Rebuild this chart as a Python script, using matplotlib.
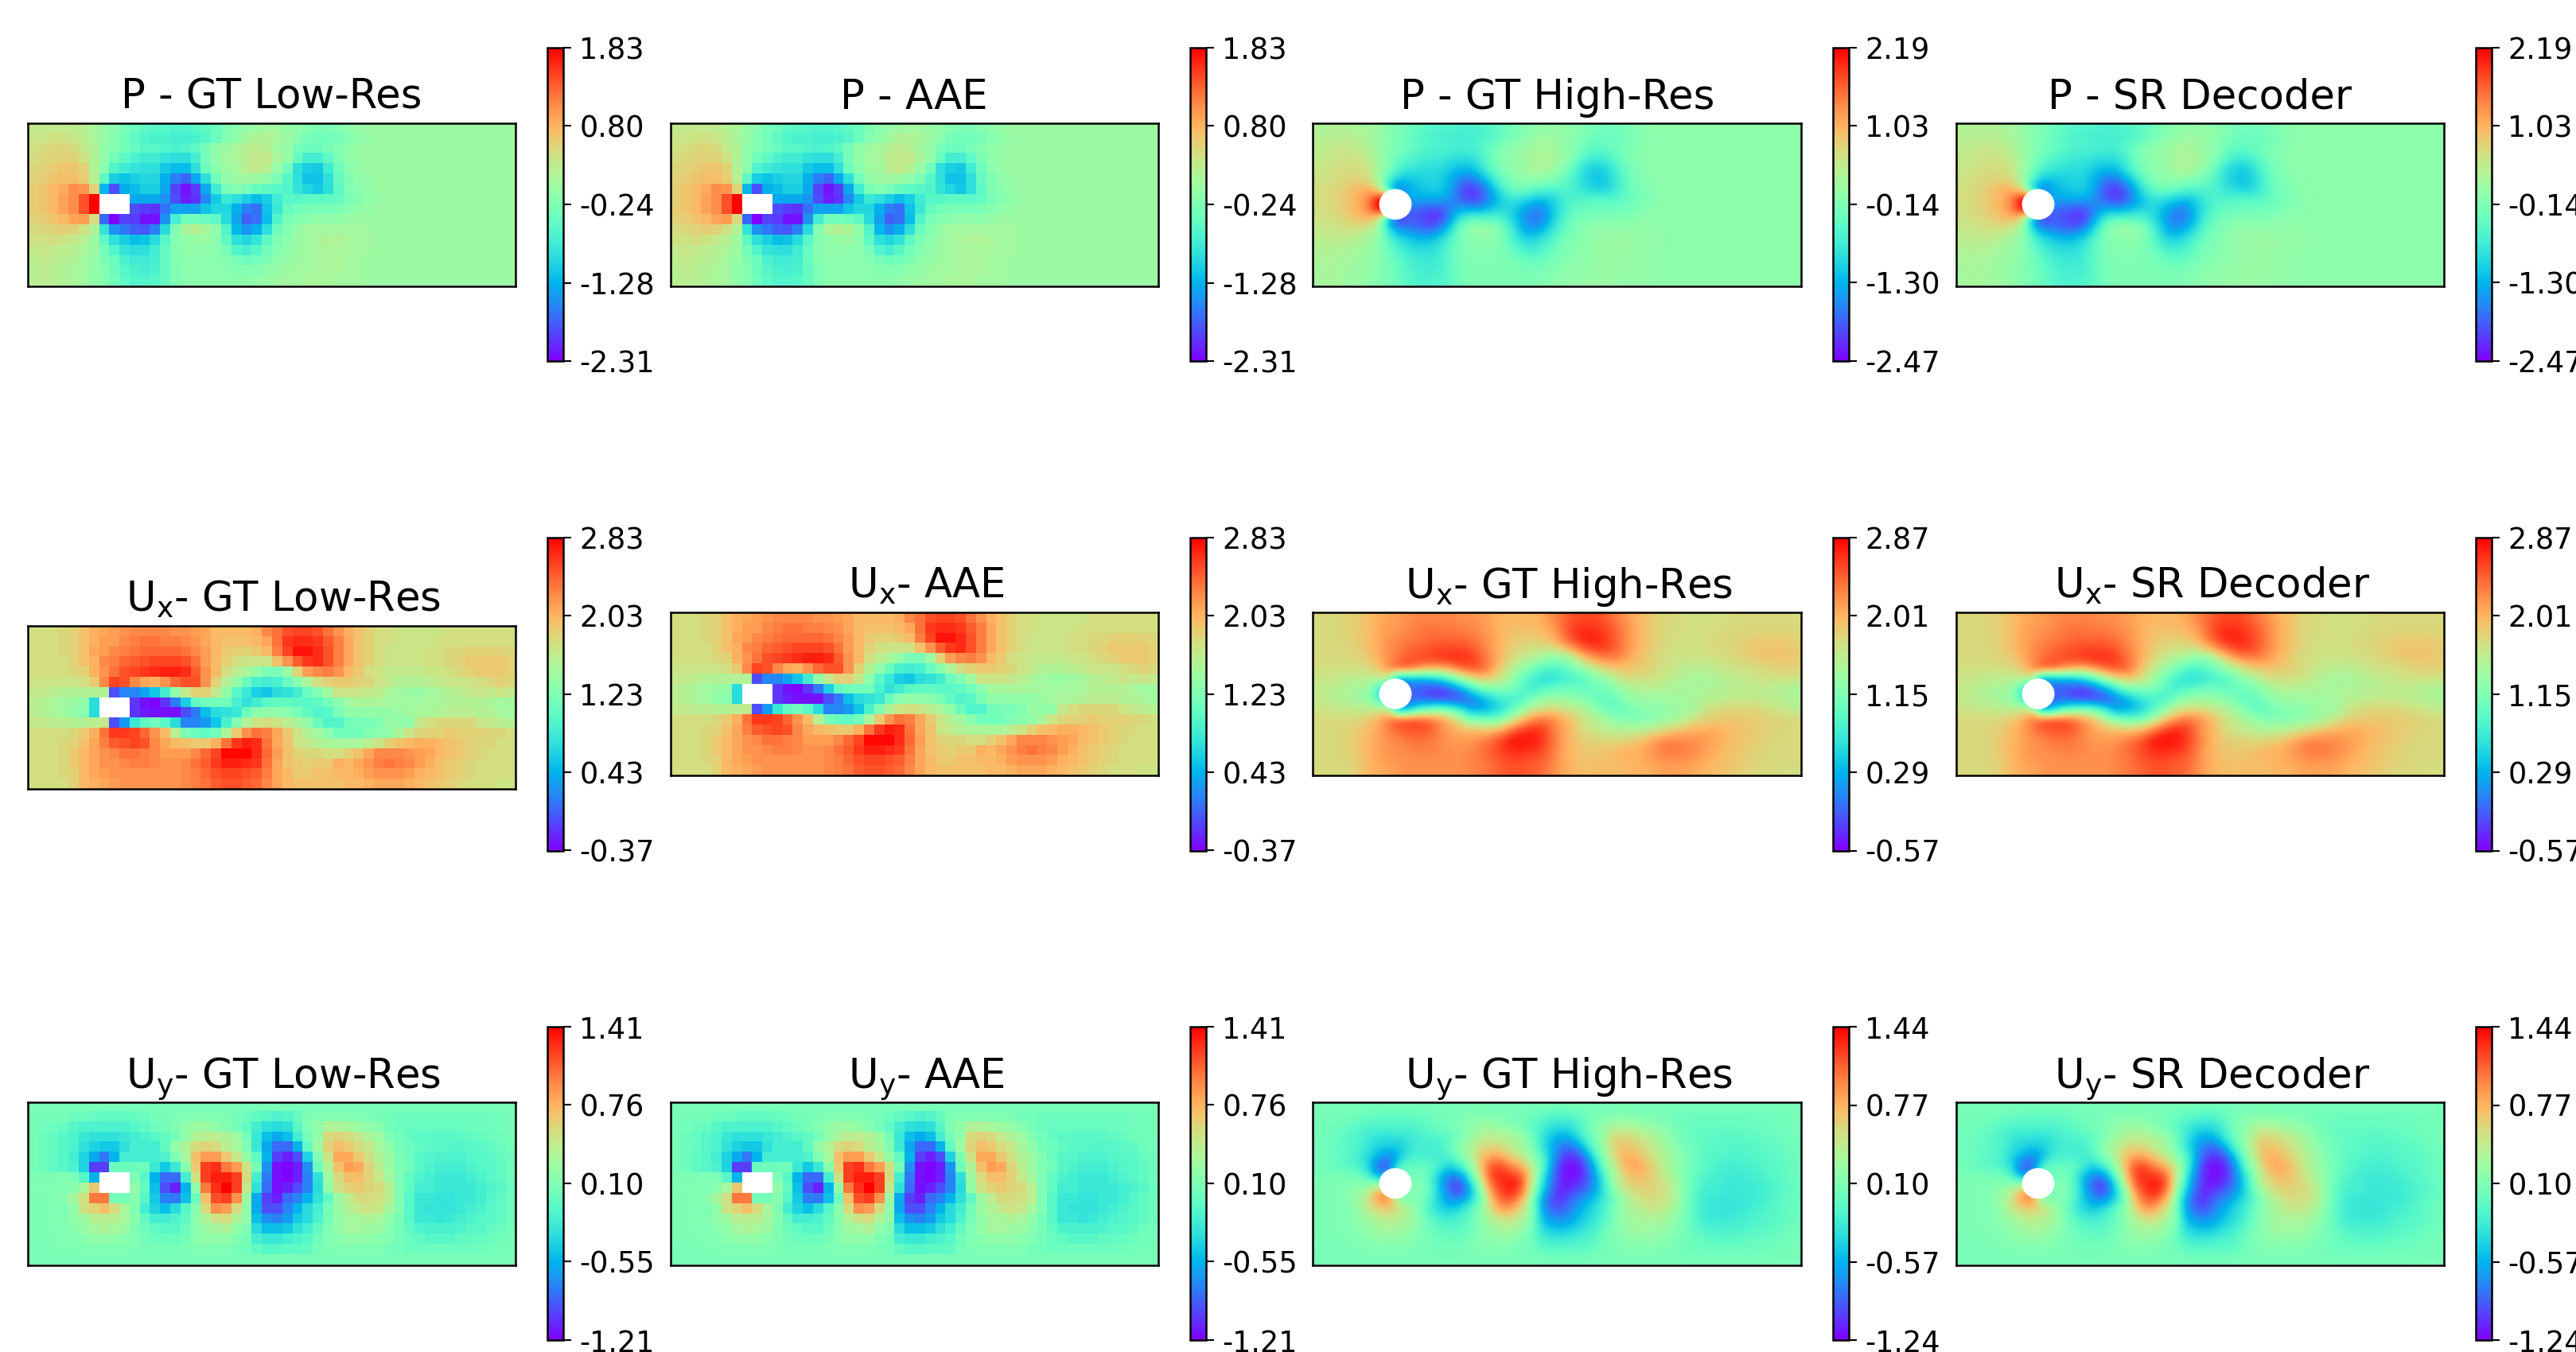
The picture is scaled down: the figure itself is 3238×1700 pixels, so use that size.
import numpy as np
import matplotlib
matplotlib.use("Agg")
import matplotlib.pyplot as plt
from matplotlib.patches import Ellipse

P_GRID = [
    [.3,.3,.3,.3,.25,.2,.1,-.05,  -.15,-.3,-.4,-.5,-.55,-.55,-.6,-.6,  -.55,-.5,-.4,-.25,-.15,-.05,0,.05,  .05,-.05,-.1,-.2,-.25,-.25,-.2,-.1,  -.05,0,0,0,0,0,0,0,  0,0,0,0,0,0,0,0],
    [.35,.35,.4,.4,.35,.25,.1,-.05,  -.2,-.35,-.5,-.6,-.65,-.65,-.7,-.7,  -.65,-.55,-.4,-.2,-.1,.05,.15,.15,  .1,0,-.15,-.3,-.35,-.35,-.3,-.2,  -.1,-.05,0,0,0,0,0,0,  0,0,0,0,0,0,0,0],
    [.4,.45,.5,.5,.45,.3,.15,-.1,  -.2,-.35,-.45,-.55,-.55,-.6,-.65,-.6,  -.5,-.3,-.1,0,.1,.2,.25,.2,  .05,-.05,-.3,-.4,-.4,-.3,-.2,-.1,  -.05,0,0,0,0,0,0,0,  0,0,0,0,0,0,0,0],
    [.45,.5,.55,.55,.55,.4,.15,-.1,  -.35,-.5,-.65,-.75,-.75,-.85,-.9,-.9,  -.7,-.3,-.1,.05,.1,.25,.3,.3,  .1,-.05,-.45,-.7,-.7,-.5,-.25,-.1,  -.05,0,0,0,0,0,0,0,  0,0,0,0,0,0,0,0],
    [.5,.55,.6,.65,.65,.55,.15,-.15,  -.6,-.75,-.85,-.9,-.9,-1.1,-1.2,-1.2,  -.9,-.4,-.15,0,.05,.25,.3,.2,  -.05,-.35,-.9,-1.05,-1.1,-.75,-.4,-.15,  -.05,0,0,0,0,0,0,0,  0,0,0,0,0,0,0,0],
    [.55,.6,.65,.7,.7,.6,.2,-.5,  -1.05,-1.15,-1.05,-1,-1,-1.3,-1.6,-1.75,  -1.35,-.9,-.35,-.1,0,.05,0,-.1,  -.25,-.55,-.9,-1.15,-1.15,-.9,-.45,-.25,  -.1,-.05,0,0,0,0,0,0,  0,0,0,0,0,0,0,0],
    [.6,.65,.75,.85,1.05,1,.55,-1.25,  -1.9,-1.3,-1.2,-1.05,-1.05,-1.35,-1.95,-2.2,  -2,-1.35,-.75,-.3,-.2,-.3,-.45,-.5,  -.55,-.6,-.85,-1,-1.1,-.9,-.5,-.25,  -.15,-.05,0,0,0,0,0,0,  0,0,0,0,0,0,0,0],
    [.6,.65,.75,.9,1.05,1.4,2.3,2.5,  -1.4,-1.4,-1.35,-1.35,-1.35,-1.5,-1.9,-2.15,  -2.05,-1.55,-1.1,-.8,-.9,-1.05,-1.2,-1.05,  -.75,-.55,-.55,-.5,-.5,-.5,-.45,-.3,  -.2,-.1,-.05,0,0,0,0,0,  0,0,0,0,0,0,0,0],
    [.6,.65,.75,.9,1.05,1.4,2.3,2.5,  -1.8,-1.8,-1.9,-2,-2.05,-1.7,-1.4,-1.4,  -1.4,-1.15,-1,-1,-1.3,-1.6,-1.7,-1.15,  -.8,-.45,-.35,-.3,-.3,-.3,-.25,-.2,  -.1,-.05,0,0,0,0,0,0,  0,0,0,0,0,0,0,0],
    [.55,.6,.65,.75,.9,.95,.45,-1.75,  -2.3,-1.95,-2,-2.2,-2.2,-1.5,-.7,-.35,  -.35,-.4,-.5,-.95,-1.4,-1.8,-1.7,-1.2,  -.6,-.3,-.2,-.15,-.1,-.1,-.1,-.05,  0,0,0,0,0,0,0,0,  0,0,0,0,0,0,0,0],
    [.45,.5,.55,.6,.55,.4,.15,-.85,  -1.5,-1.65,-1.8,-1.85,-1.6,-.95,-.2,.1,  .2,.1,-.1,-.6,-1.25,-1.5,-1.3,-.9,  -.4,-.2,-.05,.05,.05,.05,.05,.05,  .05,.05,0,0,0,0,0,0,  0,0,0,0,0,0,0,0],
    [.4,.4,.45,.4,.3,.2,0,-.5,  -.9,-1.05,-1.2,-1.15,-.95,-.55,-.2,-.1,  -.05,0,-.15,-.5,-.9,-1,-.85,-.5,  -.25,-.15,0,.05,.1,.15,.15,.1,  .05,.05,0,0,0,0,0,0,  0,0,0,0,0,0,0,0],
    [.3,.35,.3,.25,.2,.1,0,-.35,  -.6,-.85,-.9,-.9,-.75,-.45,-.2,-.1,  -.1,-.1,-.15,-.3,-.6,-.7,-.55,-.35,  -.2,-.1,0,.05,.1,.1,.1,.1,  .05,.05,0,0,0,0,0,0,  0,0,0,0,0,0,0,0],
    [.25,.3,.25,.2,.15,.05,-.05,-.25,  -.4,-.65,-.75,-.75,-.7,-.45,-.2,-.15,  -.15,-.15,-.15,-.2,-.3,-.4,-.35,-.25,  -.1,-.05,0,.05,.1,.1,.1,.05,  .05,0,0,0,0,0,0,0,  0,0,0,0,0,0,0,0],
    [.2,.25,.2,.15,.1,.05,-.1,-.2,  -.4,-.55,-.65,-.7,-.65,-.45,-.25,-.15,  -.15,-.15,-.15,-.15,-.2,-.2,-.2,-.1,  -.05,0,.05,.05,.1,.1,.1,.05,  .05,0,0,0,0,0,0,0,  0,0,0,0,0,0,0,0],
    [.2,.25,.2,.15,.1,.05,-.1,-.2,  -.35,-.5,-.6,-.6,-.55,-.45,-.25,-.15,  -.15,-.15,-.15,-.15,-.15,-.15,-.1,-.05,  0,.05,.05,.1,.1,.1,.05,.05,  .05,0,0,0,0,0,0,0,  0,0,0,0,0,0,0,0],
]

UX_GRID = [
    [1.75,1.75,1.75,1.8,1.85,1.95,2.05,2.1,  2.15,2.2,2.25,2.25,2.25,2.25,2.2,2.2,  2.15,2.1,2,2,2,2,2.05,2.25,  2.35,2.5,2.55,2.55,2.5,2.35,2.2,2.05,  1.95,1.85,1.75,1.75,1.7,1.7,1.7,1.7,  1.7,1.75,1.75,1.75,1.75,1.75,1.75,1.75],
    [1.75,1.75,1.75,1.8,1.85,1.95,2.05,2.15,  2.15,2.25,2.3,2.35,2.35,2.3,2.3,2.25,  2.2,2.1,2,1.95,1.95,1.95,2,2.1,  2.35,2.6,2.65,2.65,2.6,2.45,2.3,2.1,  1.95,1.85,1.75,1.75,1.7,1.7,1.7,1.7,  1.75,1.75,1.75,1.75,1.75,1.75,1.75,1.75],
    [1.75,1.75,1.75,1.8,1.85,1.95,2.1,2.15,  2.25,2.3,2.35,2.4,2.4,2.4,2.4,2.35,  2.25,2.15,2,1.9,1.85,1.85,1.9,2,  2.3,2.55,2.75,2.75,2.65,2.5,2.3,2.1,  1.95,1.85,1.75,1.7,1.7,1.7,1.7,1.75,  1.75,1.8,1.8,1.85,1.85,1.85,1.85,1.8],
    [1.75,1.75,1.75,1.75,1.85,1.95,2.05,2.25,  2.3,2.4,2.45,2.5,2.55,2.55,2.55,2.5,  2.35,2.15,2,1.85,1.75,1.7,1.7,1.7,  1.95,2.2,2.45,2.6,2.65,2.5,2.3,2.1,  1.95,1.85,1.75,1.7,1.7,1.7,1.7,1.75,  1.75,1.8,1.85,1.9,1.9,1.9,1.9,1.85],
    [1.75,1.75,1.75,1.75,1.8,1.85,2.05,2.2,  2.35,2.5,2.55,2.6,2.65,2.7,2.7,2.65,  2.45,2.2,2,1.75,1.6,1.5,1.35,1.2,  1.2,1.4,1.85,2.15,2.25,2.3,2.2,2,  1.9,1.75,1.7,1.65,1.65,1.65,1.65,1.7,  1.7,1.75,1.8,1.85,1.9,1.9,1.9,1.85],
    [1.7,1.7,1.7,1.7,1.7,1.75,1.9,2.25,  2.55,2.5,2.25,2.1,2.05,2.2,2.4,2.5,  2.5,2.2,1.85,1.55,1.35,1.1,.9,.85,  .9,1.1,1.3,1.5,1.75,1.85,1.9,1.9,  1.85,1.8,1.7,1.65,1.55,1.55,1.55,1.6,  1.65,1.7,1.7,1.7,1.75,1.8,1.85,1.8],
    [1.65,1.65,1.6,1.55,1.55,1.55,1.55,1.55,  -.05,.2,.2,.35,.55,.85,1.35,1.65,  1.85,1.85,1.65,1.35,1,.8,.6,.55,  .7,.75,.85,1.1,1.25,1.45,1.7,1.7,  1.7,1.65,1.6,1.5,1.45,1.4,1.4,1.45,  1.5,1.55,1.6,1.65,1.7,1.65,1.7,1.65],
    [1.6,1.55,1.5,1.45,1.4,1.35,.7,.3,  -.1,-.15,-.15,-.3,-.35,-.15,.15,.6,  1.05,1.15,1.15,1.15,.9,.75,.85,1,  1.05,1.05,1,1,1.05,1.15,1.3,1.45,  1.5,1.5,1.5,1.45,1.45,1.45,1.45,1.5,  1.5,1.55,1.55,1.55,1.55,1.5,1.45,1.45],
    [1.6,1.55,1.5,1.45,1.35,1.3,.7,.3,  -.1,-.15,-.15,-.25,-.3,-.3,-.3,-.05,  .15,.5,.7,.75,.8,1.1,1.3,1.35,  1.35,1.3,1.2,1.05,.95,1,1.2,1.35,  1.35,1.35,1.35,1.35,1.4,1.45,1.5,1.5,  1.55,1.6,1.6,1.6,1.55,1.55,1.5,1.45],
    [1.65,1.65,1.6,1.6,1.55,1.55,1.6,1.65,  -.05,.3,.8,1.05,1.15,1,.7,.2,  .2,.3,.55,.9,1.25,1.55,1.7,1.75,  1.7,1.6,1.5,1.35,1.1,.95,.95,1.15,  1.2,1.2,1.25,1.4,1.35,1.35,1.65,1.75,  1.8,1.8,1.8,1.8,1.7,1.65,1.6,1.55],
    [1.75,1.75,1.75,1.75,1.8,1.9,2.05,2.35,  2.6,2.6,2.55,2.4,2.2,2,1.6,1.2,  1.1,1.05,1.15,1.5,1.9,2.2,2.35,2.3,  2.1,1.9,1.7,1.55,1.45,1.3,1.15,1.15,  1.15,1.25,1.3,1.35,1.5,1.7,1.8,1.85,  1.85,1.9,1.85,1.85,1.85,1.8,1.8,1.75],
    [1.75,1.75,1.75,1.8,1.85,1.95,2.1,2.3,  2.45,2.5,2.55,2.5,2.25,2.1,2,1.95,  1.9,1.9,2.05,2.35,2.6,2.7,2.65,2.35,  2.1,1.95,1.7,1.65,1.55,1.5,1.5,1.5,  1.5,1.6,1.7,1.85,1.95,2,2.05,2.05,  2,1.95,1.9,1.85,1.8,1.8,1.75,1.75],
    [1.75,1.75,1.75,1.8,1.9,2,2.1,2.2,  2.25,2.35,2.35,2.3,2.25,2.15,2.15,2.15,  2.25,2.4,2.55,2.8,2.8,2.8,2.65,2.4,  2.15,1.95,1.85,1.8,1.8,1.75,1.75,1.85,  1.95,2.1,2.25,2.25,2.25,2.2,2.15,2.1,  2,1.95,1.9,1.85,1.8,1.75,1.75,1.75],
    [1.75,1.75,1.75,1.8,1.9,2,2.1,2.2,  2.2,2.25,2.3,2.3,2.25,2.2,2.2,2.25,  2.35,2.45,2.6,2.7,2.7,2.65,2.6,2.35,  2.1,1.95,1.9,1.85,1.9,1.9,2.05,2,  2.1,2.2,2.3,2.35,2.3,2.25,2.15,2.05,  1.95,1.9,1.85,1.8,1.75,1.75,1.75,1.75],
    [1.75,1.75,1.75,1.8,1.85,2,2.1,2.15,  2.2,2.2,2.2,2.2,2.2,2.2,2.2,2.25,  2.3,2.4,2.5,2.55,2.55,2.5,2.45,2.3,  2.1,2,1.9,1.9,1.95,1.95,2,2,  2.05,2.15,2.2,2.2,2.2,2.15,2.05,2,  1.95,1.9,1.85,1.8,1.75,1.75,1.75,1.75],
    [1.75,1.75,1.75,1.75,1.85,2,2.05,2.1,  2.15,2.2,2.2,2.2,2.2,2.2,2.2,2.25,  2.3,2.35,2.45,2.5,2.5,2.45,2.4,2.25,  2.1,2,1.95,1.95,1.95,1.95,1.95,2,  2,2.05,2.1,2.1,2.1,2.05,2,1.95,  1.9,1.85,1.8,1.75,1.75,1.75,1.7,1.7],
]

UY_GRID = [
    [.06,.06,.06,.06,.06,.06,.06,.06,  .06,.06,.06,.06,.06,.06,.06,.06,  .06,.06,.06,.06,.06,.06,.06,.06,  .06,.06,.06,.06,.06,.06,.06,.06,  .06,.06,.06,.06,.06,.06,.06,.06,  .06,.06,.06,.06,.06,.06,.06,.06],
    [.05,.05,.05,.05,0,0,-.03,-.05,  -.05,-.05,-.03,0,.05,.05,.08,.1,  .12,.12,.1,.08,.05,0,-.05,-.1,  -.15,-.12,-.03,.08,.1,.12,.12,.12,  .1,.08,.05,.03,0,0,0,0,  0,0,0,0,0,.02,.03,.05],
    [.05,.03,0,-.03,-.1,-.15,-.15,-.15,  -.15,-.15,-.1,-.05,0,.05,.1,.2,  .25,.25,.2,.12,.05,-.05,-.2,-.3,  -.35,-.3,-.1,.1,.2,.35,.35,.3,  .25,.2,.15,.05,0,-.03,-.03,-.03,  -.03,-.03,-.03,0,0,.02,.03,.05],
    [.05,0,-.03,-.1,-.15,-.25,-.3,-.3,  -.3,-.25,-.2,-.15,-.1,-.05,.05,.2,  .35,.4,.4,.35,.25,.05,-.25,-.5,  -.6,-.5,-.2,.05,.2,.55,.6,.55,  .45,.35,.25,.1,.03,-.03,-.08,-.08,  -.1,-.1,-.08,-.05,-.03,0,.02,.05],
    [.05,0,-.03,-.1,-.15,-.3,-.4,-.45,  -.45,-.3,-.2,-.2,-.2,-.05,.2,.35,  .55,.6,.55,.4,.3,.1,-.25,-.6,  -.85,-.85,-.55,-.05,.25,.6,.7,.65,  .55,.45,.3,.2,.05,0,-.05,-.08,  -.1,-.12,-.12,-.1,-.08,-.05,0,.03],
    [.05,0,-.05,-.1,-.2,-.4,-.6,-.8,  -.55,-.2,-.2,-.2,-.2,-.15,.1,.3,  .7,.85,.85,.65,.45,.2,-.05,-.55,  -1,-1.1,-.95,-.4,.1,.5,.8,.8,  .65,.5,.35,.25,.1,0,-.1,-.12,  -.15,-.15,-.15,-.12,-.1,-.08,-.03,0],
    [.05,0,-.05,-.1,-.15,-.4,-1,-1,  0,0,0,.02,-.25,-.45,-.25,.15,  .65,1.2,1.25,1,.85,.5,.05,-.7,  -1.15,-1.25,-1.1,-.7,0,.35,.7,.85,  .8,.6,.4,.25,.1,.02,-.1,-.15,  -.2,-.2,-.2,-.15,-.12,-.1,-.05,0],
    [.08,.08,.08,.1,.08,-.1,-.55,-.4,  -.1,0,.1,-.1,-.55,-.85,-.85,-.2,  .5,1.2,1.3,1.3,1.2,.55,-.2,-.8,  -1.15,-1.2,-1.1,-.75,-.3,.25,.55,.7,  .7,.6,.45,.3,.1,-.05,-.15,-.2,  -.25,-.25,-.25,-.2,-.15,-.1,-.05,.02],
    [.1,.1,.1,.12,.15,.3,.65,.6,  .3,.1,.2,-.05,-.5,-.95,-1.1,-.55,  .2,1,1.25,1.4,1.2,.45,-.3,-.85,  -1.15,-1.1,-.95,-.75,-.35,.2,.5,.6,  .65,.6,.55,.4,.1,-.05,-.2,-.2,  -.25,-.25,-.25,-.25,-.2,-.15,-.1,-.02],
    [.08,.08,.1,.15,.3,.5,1,1,  .05,.05,.15,-.1,-.45,-.75,-.8,-.5,  0,.7,1.15,1.2,.9,.25,-.6,-1,  -1.1,-.85,-.75,-.55,-.3,-.05,.25,.4,  .55,.55,.5,.4,.1,-.1,-.25,-.25,  -.28,-.28,-.25,-.25,-.2,-.12,-.05,0],
    [.08,.08,.1,.1,.2,.5,.6,.7,  .55,.3,.1,-.2,-.4,-.5,-.35,-.1,  .15,.55,.9,.85,.55,.2,-.6,-.95,  -.95,-.75,-.55,-.35,-.2,.05,.25,.35,  .45,.5,.45,.3,.1,-.1,-.25,-.28,  -.28,-.28,-.25,-.2,-.15,-.1,-.05,0],
    [.08,.08,.1,.12,.2,.25,.4,.4,  .4,.3,.15,-.05,-.2,-.2,-.15,-.05,  .15,.35,.5,.55,.35,.2,-.5,-.7,  -.75,-.65,-.45,-.35,-.15,.05,.2,.3,  .3,.35,.3,.2,.05,-.1,-.25,-.25,  -.28,-.25,-.2,-.15,-.12,-.1,-.05,0],
    [.08,.08,.1,.1,.15,.2,.3,.35,  .3,.25,.1,0,-.05,-.1,-.1,0,  .15,.25,.3,.35,.2,.1,-.35,-.5,  -.5,-.45,-.3,-.2,-.05,.1,.2,.3,  .3,.25,.25,.15,.05,-.05,-.15,-.17,  -.17,-.17,-.15,-.1,-.1,-.05,0,.03],
    [.08,.08,.08,.1,.12,.15,.2,.2,  .2,.15,.1,.05,0,-.02,0,.05,  .15,.2,.2,.2,.1,.05,-.2,-.25,  -.25,-.2,-.15,-.1,.02,.1,.15,.2,  .2,.2,.15,.1,.05,-.02,-.05,-.1,  -.1,-.1,-.05,-.05,-.03,0,.03,.05],
    [.06,.06,.08,.08,.08,.1,.1,.12,  .1,.1,.08,.05,.05,.05,.05,.08,  .1,.12,.12,.1,.05,.03,-.05,-.1,  -.1,-.08,-.08,-.05,.05,.08,.1,.12,  .12,.1,.1,.05,.03,0,0,0,  0,0,0,0,.02,.03,.05,.05],
    [.06,.06,.06,.06,.06,.06,.06,.06,  .06,.06,.06,.06,.06,.06,.06,.06,  .06,.06,.06,.06,.06,.06,.06,.06,  .06,.06,.06,.06,.06,.06,.06,.06,  .06,.06,.06,.06,.06,.06,.06,.06,  .06,.06,.06,.06,.06,.06,.06,.06],
]

# colorbar ticks, top to bottom
P_LOW_TICKS = [1.83, 0.80, -0.24, -1.28, -2.31]
P_HIGH_TICKS = [2.19, 1.03, -0.14, -1.30, -2.47]
UX_LOW_TICKS = [2.83, 2.03, 1.23, 0.43, -0.37]
UX_HIGH_TICKS = [2.87, 2.01, 1.15, 0.29, -0.57]
UY_LOW_TICKS = [1.41, 0.76, 0.10, -0.55, -1.21]
UY_HIGH_TICKS = [1.44, 0.77, 0.10, -0.57, -1.24]

FIELD_NAMES = ["P", r"U$_{\mathrm{x}}\!\!$", r"U$_{\mathrm{y}}\!\!$"]
COLUMN_NAMES = ["GT Low-Res", "AAE", "GT High-Res", "SR Decoder"]
GRIDS = [P_GRID, UX_GRID, UY_GRID]
LOW_TICKS = [P_LOW_TICKS, UX_LOW_TICKS, UY_LOW_TICKS]
HIGH_TICKS = [P_HIGH_TICKS, UX_HIGH_TICKS, UY_HIGH_TICKS]

# layout in reference pixels
W, H = 3238, 1700
AX_W, AX_H = 613.5, 205
CB_W, CB_H = 20, 394
AX_X = [34.5, 842.5, 1650.5, 2458.5]
CB_X = [688, 1496, 2304, 3112]
AX_Y = [154.5, 770, 1385.5]
CB_Y = [60, 675.5, 1291]
UX_LOW_Y = 786.7  # first panel of the Ux row sits lower than the others
TITLE_X = [0.5, 0.5 + 15 / AX_W, 0.5 + 15 / AX_W]  # U titles sit right of centre

cmap = plt.get_cmap("rainbow").copy()
cmap.set_bad("white")

plt.rcParams["font.family"] = ["DejaVu Sans"]
plt.rcParams["mathtext.fontset"] = "dejavusans"


def px_axes(fig, x, y, w, h):
    return fig.add_axes([x / W, 1 - (y + h) / H, w / W, h / H])


fig = plt.figure(figsize=(W / 300, H / 300), dpi=300)

for row in range(3):
    grid = np.array(GRIDS[row], dtype=float)
    for col in range(4):
        low_res = col < 2
        ticks = LOW_TICKS[row] if low_res else HIGH_TICKS[row]
        y = AX_Y[row]
        if row == 1 and col == 0:
            y = UX_LOW_Y

        ax = px_axes(fig, AX_X[col], y, AX_W, AX_H)
        if low_res:
            # obstacle cells are blank on the coarse grid
            data = np.ma.array(grid, mask=np.zeros(grid.shape, dtype=bool))
            data[7:9, 7:10] = np.ma.masked
            im = ax.imshow(data, cmap=cmap, vmin=ticks[-1], vmax=ticks[0],
                           aspect="auto", interpolation="nearest")
        else:
            im = ax.imshow(grid, cmap=cmap, vmin=ticks[-1], vmax=ticks[0],
                           aspect="auto", interpolation="bicubic")
            ax.add_patch(Ellipse((7.6, 7.5), 3.2, 3.0, facecolor="white", edgecolor="none"))
        ax.set_xticks([])
        ax.set_yticks([])
        for s in ax.spines.values():
            s.set_linewidth(0.6)
        ax.set_title(f"{FIELD_NAMES[row]} - {COLUMN_NAMES[col]}", fontsize=12.3, pad=4.3, x=TITLE_X[row])

        cax = px_axes(fig, CB_X[col], CB_Y[row], CB_W, CB_H)
        cb = fig.colorbar(im, cax=cax)
        cb.set_ticks(ticks)
        cb.set_ticklabels([f"{t:.2f}" for t in ticks])
        cb.ax.tick_params(labelsize=8.8, length=2.4, width=0.5, pad=2.5)
        cb.outline.set_linewidth(0.6)

fig.savefig("out.png", dpi=300)
